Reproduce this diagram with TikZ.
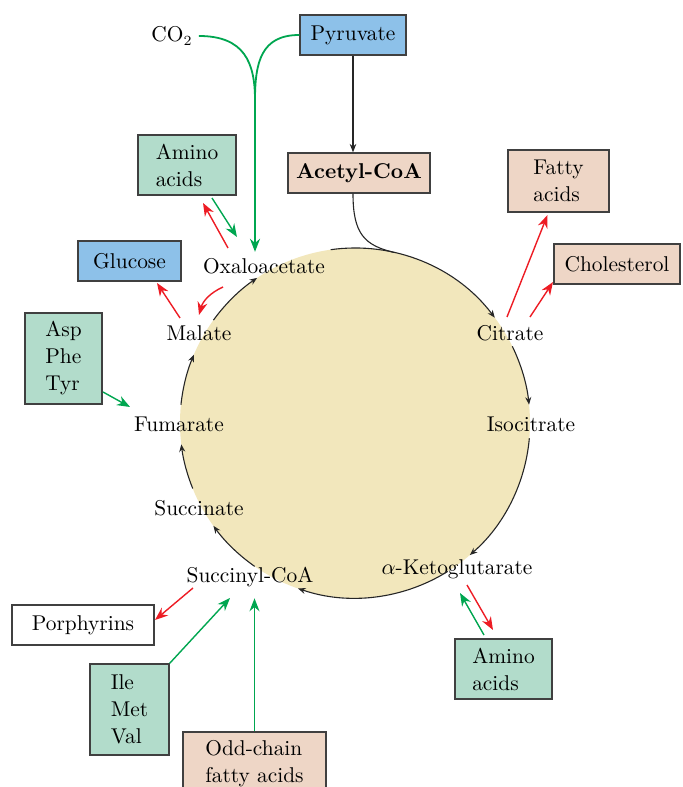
\documentclass[tikz,border=0pt]{standalone}
\usepackage{tikz}
\usetikzlibrary{arrows.meta,calc}
\definecolor{BoxBlue}{HTML}{8DC1E9}
\definecolor{BoxGreen}{HTML}{B2DCCB}
\definecolor{BoxPink}{HTML}{EED6C6}
\definecolor{BoxEdge}{HTML}{404040}
\definecolor{CycleFill}{HTML}{F2E7BC}
\definecolor{ArrRed}{HTML}{ED1C24}
\definecolor{ArrGreen}{HTML}{00A650}

\begin{document}
\begin{tikzpicture}[x=0.5pt, y=0.5pt,
    font=\fontsize{10.7}{13.5}\selectfont,
    box/.style={draw=BoxEdge, line width=0.7pt, inner sep=0pt, align=left},
    lbl/.style={inner sep=3pt},
    cyc/.style={draw=black!85, line width=0.55pt, -{Stealth[length=3.8pt,width=3pt]}},
    blkarr/.style={draw=black!85, line width=0.55pt, -{Stealth[length=4.2pt,width=3.3pt]}},
    redarr/.style={draw=ArrRed, line width=0.7pt, -{Stealth[length=6.5pt,width=5pt]}},
    grnarr/.style={draw=ArrGreen, line width=0.7pt, -{Stealth[length=6.5pt,width=5pt]}}
  ]
    \useasboundingbox (0,0) rectangle (682,787);
    \coordinate (c) at (355,364);
    \fill[CycleFill] (c) circle[radius=175];

    \node[box, fill=BoxBlue, minimum width=53pt, minimum height=20pt] (pyr) at (353,752) {Pyruvate};
    \node[box, fill=BoxPink, minimum width=71pt, minimum height=20pt] (acoa) at (359,614) {\textbf{Acetyl-CoA}};
    \node[box, fill=BoxGreen, minimum width=49pt, minimum height=30pt] (amt) at (187,622) {Amino\\acids};
    \node[box, fill=BoxBlue, minimum width=51.5pt, minimum height=20pt] (glu) at (129.5,526) {Glucose};
    \node[box, fill=BoxPink, minimum width=50.5pt, minimum height=31pt] (fat) at (558.5,606) {Fatty\\acids};
    \node[box, fill=BoxPink, minimum width=63pt, minimum height=20pt] (cho) at (617,523) {Cholesterol};
    \node[box, fill=BoxGreen, minimum width=38.5pt, minimum height=45.5pt] (apt) at (63.5,428.5) {Asp\\Phe\\Tyr};
    \node[box, fill=white, minimum width=71pt, minimum height=20pt] (por) at (83,162) {Porphyrins};
    \node[box, fill=BoxGreen, minimum width=39.5pt, minimum height=45.5pt] (imv) at (129.5,77.5) {Ile\\Met\\Val};
    \node[box, fill=BoxPink, minimum width=71.5pt, minimum height=31.5pt] (odd) at (254.5,23.5) {Odd-chain\\fatty acids};
    \node[box, fill=BoxGreen, minimum width=48.5pt, minimum height=30pt] (amb) at (503.5,118) {Amino\\acids};
    \node[lbl] (co2) at (172,751) {CO$_2$};

    \node[lbl] (oaa) at (264,521) {Oxaloacetate};
    \node[lbl] (cit) at (510,454) {Citrate};
    \node[lbl] (iso) at (531,363) {Isocitrate};
    \node[lbl] (akg) at (457,218) {$\alpha$-Ketoglutarate};
    \node[lbl] (scoa) at (250,210) {Succinyl-CoA};
    \node[lbl] (succ) at (199,279) {Succinate};
    \node[lbl] (fum) at (179,363) {Fumarate};
    \node[lbl] (mal) at (199,454) {Malate};

    \foreach \a/\b in {98/37, 26/6, -5/-49, -58/-109, -125/-144, -158/-173, 174/157, 144/124}
      \draw[cyc] ([shift={(c)}]\a:175) arc[start angle=\a, end angle=\b, radius=175];

    \draw[blkarr] (pyr.south) -- (pyr.south |- acoa.north);
    \draw[draw=black!85, line width=0.55pt] (acoa.south -| pyr) .. controls +(0,-40) and +(-30,7) .. ([shift={(c)}]77:175);

    \coordinate (mrg) at (255,687);
    \draw[ArrGreen, line width=0.9pt] (co2.east) .. controls +(45,0) and +(0,38) .. (mrg);
    \draw[ArrGreen, line width=0.9pt] (pyr.west) .. controls +(-38,0) and +(0,38) .. (mrg);
    \draw[grnarr, line width=0.9pt] (mrg) -- (mrg |- oaa.north);

    \draw[redarr] ($(oaa)+(-36,18)$) -- ($(amt)+(16,-38)$);
    \draw[grnarr] ($(amt)+(25,-33)$) -- ($(oaa)+(-27,29)$);
    \draw[redarr] ($(mal)+(-19,15)$) -- ($(glu)+(27.5,-22)$);
    \draw[redarr] ($(oaa)+(-41,-21)$) to[bend right=25] ($(mal)+(0,18)$);
    \draw[grnarr] ($(apt)+(39.5,-33.5)$) -- ($(fum)+(-49,17)$);
    \draw[redarr] ($(cit)+(-3,16)$) -- ($(fat)+(-11,-34)$);
    \draw[redarr] ($(cit)+(20,16)$) -- ($(cho)+(-64,-18)$);
    \draw[redarr] ($(scoa)+(-57,-11)$) -- ($(por)+(72,5)$);
    \draw[grnarr] (imv.north east) -- ($(scoa)+(-20,-21)$);
    \draw[grnarr] (odd.north) -- ($(odd.north)+(0,133)$);
    \draw[redarr] ($(akg)+(10,-16)$) -- ($(amb)+(-10.5,39)$);
    \draw[grnarr] ($(amb)+(-19.5,34)$) -- ($(akg)+(3,-24)$);
  \end{tikzpicture}
\end{document}
